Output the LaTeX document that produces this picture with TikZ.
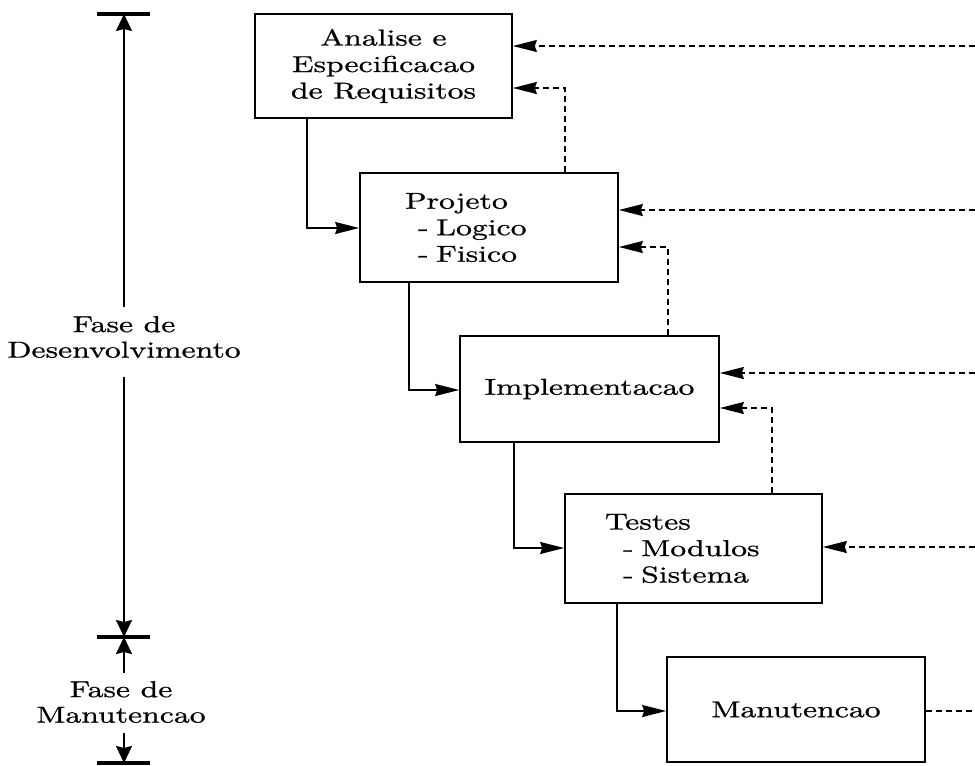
\documentclass[tikz,border=0pt]{standalone}
\usepackage{fontspec}
\setmainfont{lmroman10-regular.otf}[FakeStretch=1.38,FakeBold=0.8]
\usetikzlibrary{arrows.meta}
\begin{document}
\begin{tikzpicture}[x=1pt,y=-1pt,
  txt/.style={font=\fontsize{23}{26.5}\selectfont},
  box/.style={txt,draw,line width=1.7pt,inner sep=0pt,align=center},
  conn/.style={line width=1.5pt,-{Stealth[length=24pt,width=12pt,inset=2pt]}},
  fb/.style={line width=1.5pt,dash pattern=on 6pt off 4pt,-{Stealth[length=24pt,width=12pt,inset=2pt]}},
  fbplain/.style={line width=1.5pt,dash pattern=on 6pt off 4pt},
  vline/.style={line width=2pt,-{Stealth[length=17pt,width=16pt,inset=2pt]}},
  tick/.style={line width=3.2pt},
  lbl/.style={font=\fontsize{23}{25.5}\selectfont,align=center,inner sep=0pt}
]
\useasboundingbox (0,0) rectangle (975,766);

% boxes
\node[box,minimum width=257pt,minimum height=104pt] (A) at (383.5,66)
  {Analise e\\Especificacao\\de Requisitos};
\node[box,align=left,inner xsep=45pt,text width=168pt,minimum height=109pt] (P) at (489,227.5)
  {Projeto\\\hspace*{13pt}- Logico\\\hspace*{13pt}- Fisico};
\node[box,minimum width=259pt,minimum height=106pt] (I) at (589.5,389)
  {Implementacao};
\node[box,align=left,inner xsep=40pt,text width=177pt,minimum height=109pt] (T) at (693.5,548.5)
  {Testes\\\hspace*{18pt}- Modulos\\\hspace*{18pt}- Sistema};
\node[box,minimum width=258pt,minimum height=105pt] (M) at (796,709.5)
  {Manutencao};

% forward connectors
\draw[conn] (A.south -| 307,0) |- (P.west |- 0,228);
\draw[conn] (P.south -| 409,0) |- (I.west |- 0,390);
\draw[conn] (I.south -| 514,0) |- (T.west |- 0,548);
\draw[conn] (T.south -| 617,0) |- (M.west |- 0,711);

% feedback connectors
\draw[fb] (P.north -| 565,0) |- (A.east |- 0,88);
\draw[fb] (I.north -| 668,0) |- (P.east |- 0,247);
\draw[fb] (T.north -| 772,0) |- (I.east |- 0,408);

% long return lines from the right edge
\coordinate (eA) at (975,46);
\coordinate (eP) at (975,210);
\coordinate (eI) at (975,373);
\coordinate (eT) at (975,547);
\coordinate (eM) at (975,711);
\draw[fb] (eA) -- (A.east |- eA);
\draw[fb] (eP) -- (P.east |- eP);
\draw[fb] (eI) -- (I.east |- eI);
\draw[fb] (eT) -- (T.east |- eT);
\draw[fbplain] (M.east |- eM) -- (eM);

% phase scale
\coordinate (t1L) at (97,14);  \coordinate (t1R) at (150,14);  \coordinate (t1) at (124,14);
\coordinate (t2L) at (97,637); \coordinate (t2R) at (150,637); \coordinate (t2) at (124,637);
\coordinate (t3L) at (97,763); \coordinate (t3R) at (150,763); \coordinate (t3) at (124,763);
\draw[tick] (t1L) -- (t1R);
\draw[tick] (t2L) -- (t2R);
\draw[tick] (t3L) -- (t3R);

\node[lbl] (L1) at (124,337) {Fase de\\Desenvolvimento};
\node[lbl] (L2) at (121,702) {Fase de\\Manutencao};

\coordinate (d1) at (124,307);
\coordinate (d2) at (124,377);
\coordinate (m1) at (124,673);
\coordinate (m2) at (124,733);
\draw[vline] (d1) -- (t1);
\draw[vline] (d2) -- (t2);
\draw[vline] (m1) -- (t2);
\draw[vline] (m2) -- (t3);
\end{tikzpicture}
\end{document}
